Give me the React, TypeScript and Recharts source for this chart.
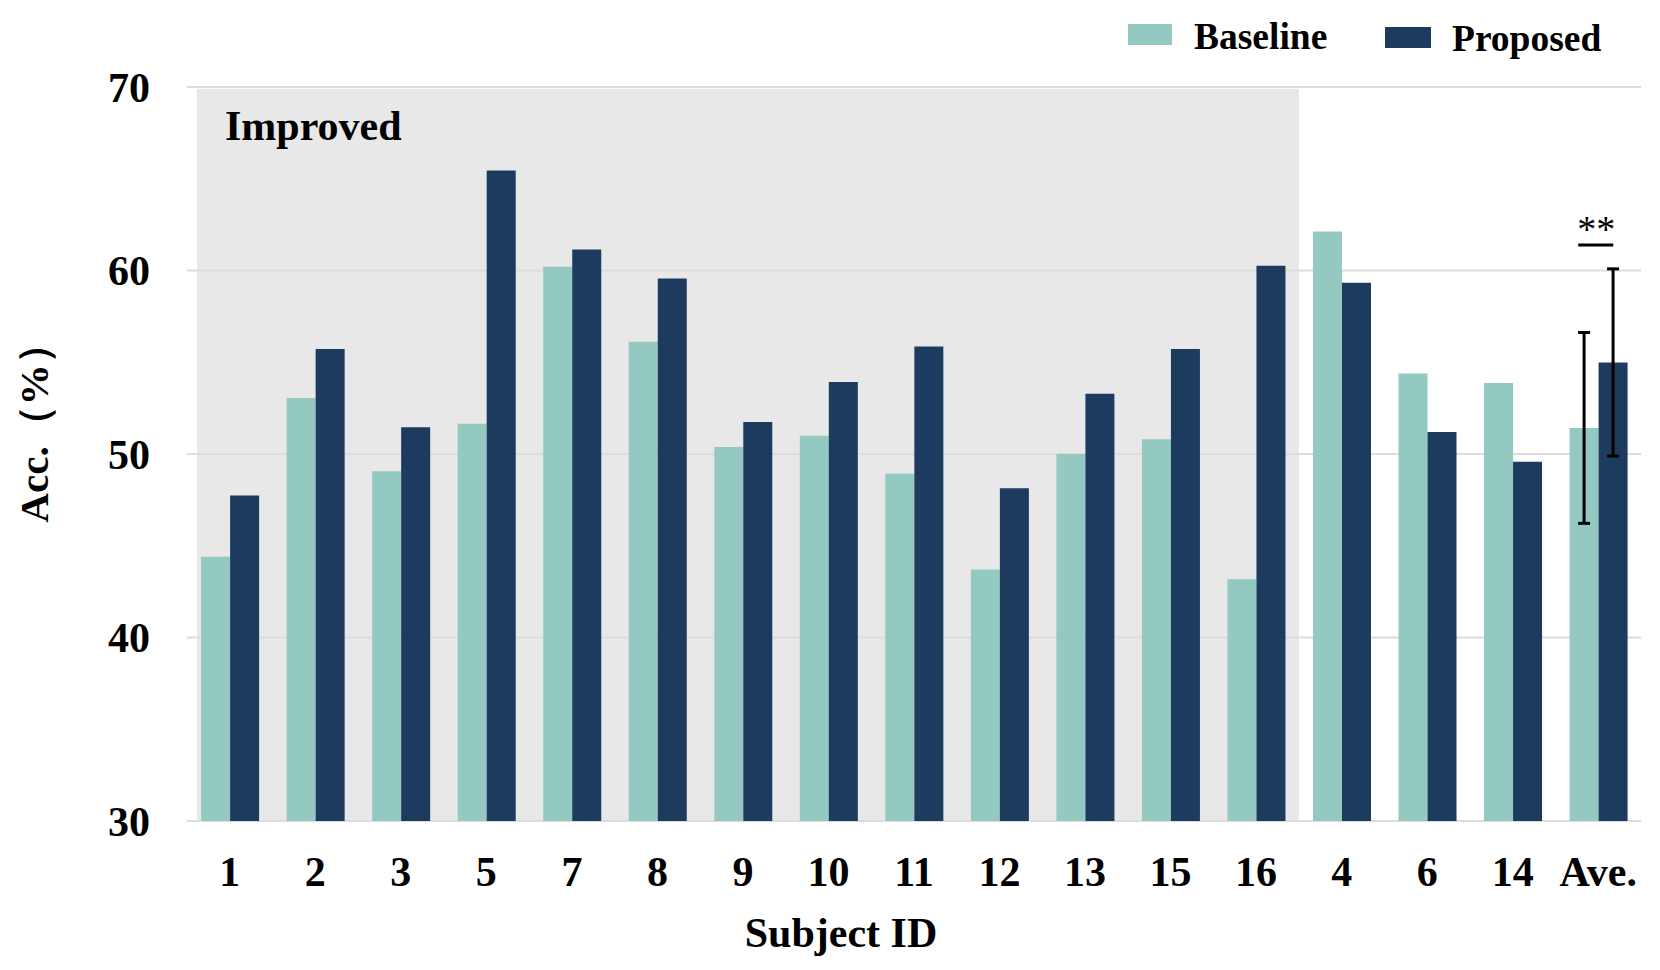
import React from "react";
import {
  BarChart,
  Bar,
  XAxis,
  YAxis,
  CartesianGrid,
  ReferenceArea,
  ReferenceDot,
  ErrorBar,
  Legend,
} from "recharts";

const subjects = ["1", "2", "3", "5", "7", "8", "9", "10", "11", "12", "13", "15", "16", "4", "6", "14", "Ave."];
const baseline = [44.4, 53.05, 49.06, 51.65, 60.2, 56.12, 50.38, 51.0, 48.92, 43.7, 50.0, 50.8, 43.18, 62.12, 54.39, 53.87, 51.42];
const proposed = [47.74, 55.72, 51.46, 65.45, 61.14, 59.57, 51.75, 53.92, 55.86, 48.13, 53.29, 55.72, 60.26, 59.33, 51.2, 49.58, 54.99];
const baselineStd = [null, null, null, null, null, null, null, null, null, null, null, null, null, null, null, null, 5.2];
const proposedStd = [null, null, null, null, null, null, null, null, null, null, null, null, null, null, null, null, 5.1];
const yTicks = [30, 40, 50, 60, 70];
const improvedCount = 13; // first 13 subjects sit in the "Improved" block
const sigMark = "**";
const sigLevel = 61.39;

const data = subjects.map((s, i) => ({
  subject: s,
  baseline: baseline[i],
  proposed: proposed[i],
  baselineStd: baselineStd[i],
  proposedStd: proposedStd[i],
}));

const FONT = "'Liberation Serif', 'Times New Roman', serif";
const TEAL = "#93C9C0";
const NAVY = "#1D3A5F";

const LegendBox = () => (
  <div style={{ position: "relative", width: 520, height: 60, fontFamily: FONT, fontWeight: 700, color: "#000" }}>
    <div style={{ position: "absolute", left: 28, top: 24, width: 44, height: 21, background: TEAL }} />
    <span style={{ position: "absolute", left: 94, top: 17, fontSize: 37.5, lineHeight: "40px", whiteSpace: "nowrap" }}>
      Baseline
    </span>
    <div style={{ position: "absolute", left: 285, top: 27, width: 46, height: 21, background: NAVY }} />
    <span style={{ position: "absolute", left: 352, top: 19, fontSize: 37.5, lineHeight: "40px", whiteSpace: "nowrap" }}>
      Proposed
    </span>
  </div>
);

// gray block, drawn a little in from the plot's left edge
const ImprovedShade = (props: any) => {
  const { x, y, width, height } = props;
  const inset = 10;
  return <rect x={x + inset} y={y} width={width - inset} height={height} fill="#E8E8E8" />;
};

const SigMarker = (props: any) => {
  const { cx, cy } = props;
  return (
    <g>
      <line x1={cx - 20} x2={cx + 15} y1={cy} y2={cy} stroke="#000" strokeWidth={3} />
      <text
        x={cx - 2}
        y={cy - 3}
        textAnchor="middle"
        style={{ fill: "#000", fontSize: 38, fontFamily: FONT }}
      >
        {sigMark}
      </text>
    </g>
  );
};

export default function App() {
  const tickStyle = { fill: "#000", fontSize: 42, fontWeight: 700, fontFamily: FONT };
  return (
    <div style={{ position: "absolute", left: 0, top: 0, width: 1660, height: 970, background: "#fff" }}>
      <BarChart
        width={1660}
        height={970}
        data={data}
        margin={{ top: 87, right: 19, left: 0, bottom: 0 }}
        barCategoryGap="16.5%"
        barGap={0}
      >
        <ReferenceArea
          x1={subjects[0]}
          x2={subjects[improvedCount - 1]}
          y1={30}
          y2={69.9}
          fill="#E8E8E8"
          fillOpacity={1}
          stroke="none"
          ifOverflow="visible"
          zIndex={-150}
          shape={ImprovedShade}
          label={{
            value: "Improved",
            position: "insideTopLeft",
            offset: 21,
            dx: 17,
            style: { fill: "#000", fontSize: 42, fontWeight: 700, fontFamily: FONT },
          }}
        />
        <CartesianGrid vertical={false} stroke="#DCDCDC" strokeWidth={2} />
        <XAxis
          dataKey="subject"
          interval={0}
          axisLine={false}
          tickLine={false}
          tickSize={0}
          tickMargin={35}
          height={149}
          tick={tickStyle}
          label={{
            value: "Subject ID",
            position: "insideBottom",
            offset: 23,
            dx: -73,
            style: { fill: "#000", fontSize: 42, fontWeight: 700, fontFamily: FONT },
          }}
        />
        <YAxis
          domain={[30, 70]}
          ticks={yTicks}
          allowDataOverflow
          axisLine={false}
          tickLine={false}
          tickSize={0}
          tickMargin={37}
          width={187}
          tick={tickStyle}
          label={{
            value: "Acc.（%）",
            angle: -90,
            position: "insideLeft",
            offset: 33,
            dy: -31,
            style: { fill: "#000", fontSize: 41, fontWeight: 700, fontFamily: FONT, textAnchor: "middle" },
          }}
        />
        <Legend
          layout="horizontal"
          verticalAlign="middle"
          content={() => <LegendBox />}
          wrapperStyle={{ top: 0, left: 1100, width: 520 }}
        />
        <Bar dataKey="baseline" name="Baseline" fill={TEAL} isAnimationActive={false}>
          <ErrorBar dataKey="baselineStd" width={6} stroke="#000" strokeWidth={3} isAnimationActive={false} />
        </Bar>
        <Bar dataKey="proposed" name="Proposed" fill={NAVY} isAnimationActive={false}>
          <ErrorBar dataKey="proposedStd" width={6} stroke="#000" strokeWidth={3} isAnimationActive={false} />
        </Bar>
        <ReferenceDot
          x={subjects[subjects.length - 1]}
          y={sigLevel}
          ifOverflow="visible"
          shape={SigMarker}
        />
      </BarChart>
    </div>
  );
}
